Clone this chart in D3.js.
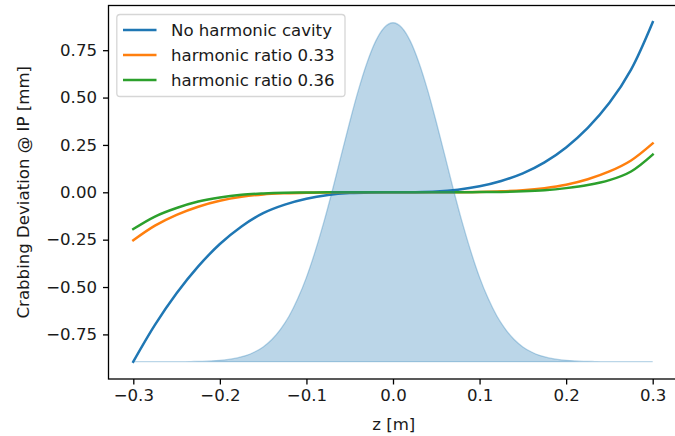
<!DOCTYPE html>
<html><head><meta charset="utf-8">
<script src="https://cdn.jsdelivr.net/npm/d3@7"></script>
<style>
html,body{margin:0;padding:0;background:#fff;}
svg text{font-family:"DejaVu Sans",sans-serif;}
</style></head>
<body><svg id="c" width="675" height="436"></svg>
<script>
// ---- data ----
const zValues = [-0.3,-0.275,-0.25,-0.225,-0.2,-0.175,-0.15,-0.125,-0.1,-0.075,-0.05,-0.025,0,
                 0.025,0.05,0.075,0.1,0.125,0.15,0.175,0.2,0.225,0.25,0.275,0.3];
const noHarmonic = [-0.894,-0.700,-0.533,-0.391,-0.273,-0.180,-0.110,-0.065,-0.034,-0.0145,-0.0042,-0.0005,0,
                    0.0005,0.004,0.014,0.032,0.060,0.100,0.158,0.237,0.340,0.472,0.648,0.898];
const ratio033 = [-0.253,-0.176,-0.119,-0.076,-0.045,-0.024,-0.011,-0.005,-0.002,-0.0005,0,0,0,
                  0,0,0.0005,0.002,0.005,0.011,0.022,0.040,0.069,0.110,0.168,0.258];
const ratio036 = [-0.194,-0.128,-0.083,-0.049,-0.027,-0.013,-0.006,-0.002,-0.001,0,0,0,0,
                  0,0,0,0.001,0.002,0.005,0.011,0.022,0.038,0.064,0.110,0.199];
const seriesNames = ["No harmonic cavity","harmonic ratio 0.33","harmonic ratio 0.36"];
const seriesColors = ["#1f77b4","#ff7f0e","#2ca02c"];

const bunchZ = [-0.30,-0.29,-0.28,-0.27,-0.26,-0.25,-0.24,-0.23,-0.22,-0.21,-0.20,-0.19,-0.18,-0.17,-0.16,
  -0.15,-0.14,-0.13,-0.12,-0.11,-0.10,-0.09,-0.08,-0.07,-0.06,-0.05,-0.04,-0.03,-0.02,-0.01,0,
  0.01,0.02,0.03,0.04,0.05,0.06,0.07,0.08,0.09,0.10,0.11,0.12,0.13,0.14,0.15,
  0.16,0.17,0.18,0.19,0.20,0.21,0.22,0.23,0.24,0.25,0.26,0.27,0.28,0.29,0.30];
const bunchProfile = [-0.894,-0.894,-0.894,-0.894,-0.894,-0.894,-0.894,-0.893,-0.892,-0.890,-0.887,-0.882,-0.874,-0.862,-0.843,
  -0.816,-0.777,-0.723,-0.653,-0.561,-0.449,-0.313,-0.159,0.011,0.192,0.371,0.539,0.684,0.798,0.870,0.895,
  0.870,0.798,0.684,0.539,0.371,0.192,0.011,-0.159,-0.313,-0.449,-0.561,-0.653,-0.723,-0.777,-0.816,
  -0.843,-0.862,-0.874,-0.882,-0.887,-0.890,-0.892,-0.893,-0.894,-0.894,-0.894,-0.894,-0.894,-0.894,-0.894];
const bunchBase = -0.894;

const xTicks = [-0.3,-0.2,-0.1,0.0,0.1,0.2,0.3];
const xTickLabels = ["−0.3","−0.2","−0.1","0.0","0.1","0.2","0.3"];
const yTicks = [-0.75,-0.5,-0.25,0,0.25,0.5,0.75];
const yTickLabels = ["−0.75","−0.50","−0.25","0.00","0.25","0.50","0.75"];
const xLabel = "z [m]";
const yLabel = "Crabbing Deviation @ IP [mm]";

// ---- layout ----
const L = 108.5, R = 679, T = 5.5, B = 379;
const FS = 16.6;
const svg = d3.select("#c");
const x = d3.scaleLinear().domain([-0.3,0.3]).range([133.3,652.7]);
const y = d3.scaleLinear().domain([-0.75,0.75]).range([334.4,50.2]);

// lines
const line = d3.line().x(d=>x(d[0])).y(d=>y(d[1])).curve(d3.curveCatmullRom.alpha(0.5));
[noHarmonic, ratio033, ratio036].forEach((vals,i)=>{
  svg.append("path").datum(zValues.map((z,j)=>[z,vals[j]]))
    .attr("d",line).attr("fill","none").attr("stroke",seriesColors[i])
    .attr("stroke-width",2.5).attr("stroke-linecap","square").attr("stroke-linejoin","round");
});

// bunch profile fill (drawn over lines, alpha 0.3)
const area = d3.area().x(d=>x(d[0])).y0(y(bunchBase)).y1(d=>y(d[1])).curve(d3.curveMonotoneX);
svg.append("path").datum(bunchZ.map((z,j)=>[z,bunchProfile[j]]))
  .attr("d",area).attr("fill","#1f77b4").attr("fill-opacity",0.3)
  .attr("stroke","#1f77b4").attr("stroke-opacity",0.3).attr("stroke-width",1.3);

// axes
const gx = svg.append("g").attr("transform",`translate(0,${B})`)
  .call(d3.axisBottom(x).tickValues(xTicks).tickSize(5.5).tickPadding(5)
        .tickFormat((d,i)=>xTickLabels[i]));
const gy = svg.append("g").attr("transform",`translate(${L},0)`)
  .call(d3.axisLeft(y).tickValues(yTicks).tickSize(5.5).tickPadding(6)
        .tickFormat((d,i)=>yTickLabels[i]));
[gx,gy].forEach(g=>{
  g.select(".domain").remove();
  g.selectAll(".tick line").attr("stroke","#000").attr("stroke-width",1.3);
  g.selectAll(".tick text").attr("fill","#1a1a1a").style("font-size",FS+"px");
});
gx.selectAll(".tick text").attr("dy","0.71em");

// spines
svg.append("rect").attr("x",L).attr("y",T).attr("width",R-L).attr("height",B-T)
  .attr("fill","none").attr("stroke","#000").attr("stroke-width",1.3);

// labels
svg.append("text").attr("x",(L+R)/2).attr("y",430).attr("text-anchor","middle")
  .attr("fill","#1a1a1a").style("font-size",FS+"px").text(xLabel);
svg.append("text").attr("transform",`translate(29,${(T+B)/2}) rotate(-90)`)
  .attr("text-anchor","middle").attr("fill","#1a1a1a").style("font-size",FS+"px").text(yLabel);

// legend
const lg = svg.append("g");
lg.append("rect").attr("x",116.8).attr("y",14.5).attr("width",228.2).attr("height",82)
  .attr("rx",3.3).attr("fill","#fff").attr("fill-opacity",0.8)
  .attr("stroke","#d6d6d6").attr("stroke-width",1.3);
seriesNames.forEach((n,i)=>{
  const cy = 30 + i*25;
  lg.append("line").attr("x1",123).attr("x2",156.5).attr("y1",cy).attr("y2",cy)
    .attr("stroke",seriesColors[i]).attr("stroke-width",2.5);
  lg.append("text").attr("x",171).attr("y",cy+6).attr("fill","#1a1a1a")
    .style("font-size",FS+"px").text(n);
});
</script></body></html>
